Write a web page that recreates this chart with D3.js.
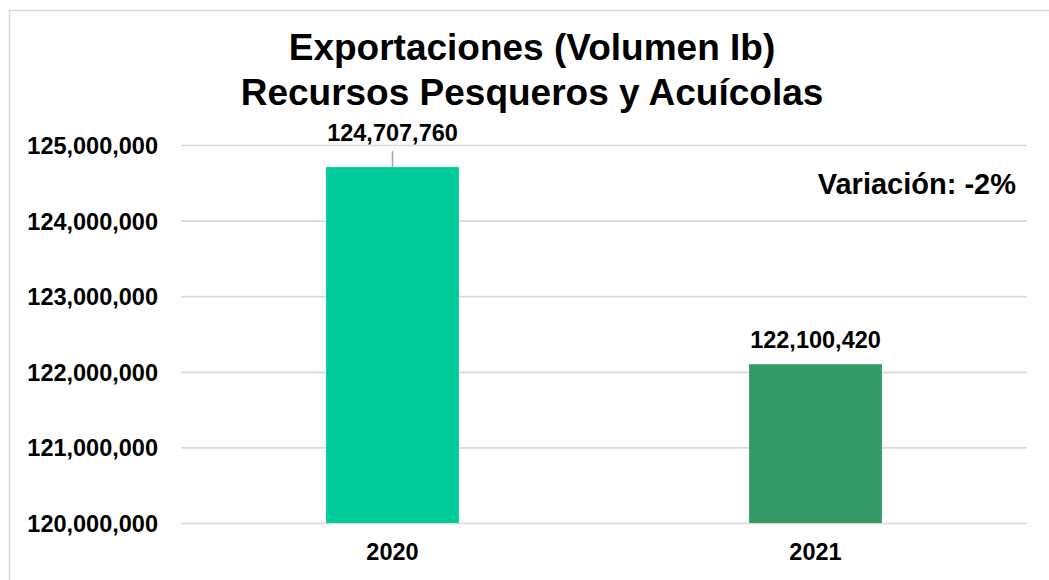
<!DOCTYPE html>
<html>
<head>
<meta charset="utf-8">
<script src="https://cdn.jsdelivr.net/npm/d3@7"></script>
<style>
  html, body { margin: 0; padding: 0; background: #fff; }
  svg { display: block; font-family: "Liberation Sans", Arial, sans-serif; font-weight: bold; }
</style>
</head>
<body>
<svg id="chart" width="1049" height="580"></svg>
<script>
const categories = ["2020", "2021"];
const values = [124707760, 122100420];
const barColors = ["#00CC99", "#339966"];
const yTicks = [120000000, 121000000, 122000000, 123000000, 124000000, 125000000];
const titleLines = ["Exportaciones (Volumen Ib)", "Recursos Pesqueros y Acuícolas"];
const annotation = "Variación: -2%";

const svg = d3.select("#chart");
const plot = { left: 181, right: 1027, top: 145, bottom: 523 };

// outer chart border (extends beyond viewport on right/bottom)
svg.append("rect")
  .attr("x", 9.5).attr("y", 10.5)
  .attr("width", 1100).attr("height", 700)
  .attr("fill", "#fff")
  .attr("stroke", "#d9d9d9").attr("stroke-width", 1.5);

const x = d3.scaleBand().domain(categories).range([plot.left, plot.right]).padding(0);
const y = d3.scaleLinear().domain([120000000, 125000000]).range([plot.bottom, plot.top]);
const fmt = d3.format(",");

// y axis with gridlines
const yAxis = d3.axisLeft(y)
  .tickValues(yTicks)
  .tickSize(-(plot.right - plot.left))
  .tickPadding(23)
  .tickFormat(fmt);

const gy = svg.append("g")
  .attr("transform", `translate(${plot.left},0)`)
  .call(yAxis);
gy.select(".domain").remove();
gy.selectAll(".tick line").attr("stroke", "#d9d9d9").attr("stroke-width", 1.7);
gy.selectAll(".tick text")
  .attr("fill", "#000")
  .style("font-size", "23.5px")
  .style("font-weight", "bold")
  .style("font-family", "'Liberation Sans', Arial, sans-serif")
  .attr("dy", "0.36em");

// bars
const barFrac = 0.314;
const bw = x.bandwidth() * barFrac;
svg.append("g").selectAll("rect")
  .data(categories)
  .join("rect")
  .attr("x", (d) => x(d) + (x.bandwidth() - bw) / 2)
  .attr("y", (d, i) => y(values[i]))
  .attr("width", bw)
  .attr("height", (d, i) => y(120000000) - y(values[i]))
  .attr("fill", (d, i) => barColors[i]);

// x axis labels
const xAxis = d3.axisBottom(x).tickSize(0).tickPadding(0);
const gx = svg.append("g")
  .attr("transform", `translate(0,${plot.bottom})`)
  .call(xAxis);
gx.select(".domain").remove();
gx.selectAll(".tick text")
  .attr("fill", "#000")
  .attr("y", 37)
  .attr("dy", 0)
  .style("font-size", "23.5px")
  .style("font-weight", "bold")
  .style("font-family", "'Liberation Sans', Arial, sans-serif");

// data labels (first one moved up with a leader line)
const labelGap = 16;
const movedExtra = [10, 0];
const cx = (d) => x(d) + x.bandwidth() / 2;
svg.append("g").selectAll("line")
  .data(categories.filter((d, i) => movedExtra[i] > 0))
  .join("line")
  .attr("x1", cx).attr("x2", cx)
  .attr("y1", (d) => y(values[categories.indexOf(d)]) - 16)
  .attr("y2", (d) => y(values[categories.indexOf(d)]))
  .attr("stroke", "#a6a6a6").attr("stroke-width", 1.5);

svg.append("g").selectAll("text")
  .data(categories)
  .join("text")
  .attr("x", cx)
  .attr("y", (d, i) => y(values[i]) - labelGap - movedExtra[i])
  .attr("text-anchor", "middle")
  .attr("font-size", "23.5px")
  .text((d, i) => fmt(values[i]));

// title
svg.append("g").selectAll("text")
  .data(titleLines)
  .join("text")
  .attr("x", 532)
  .attr("y", (d, i) => 60 + i * 44.5)
  .attr("text-anchor", "middle")
  .attr("font-size", "37px")
  .text((d) => d);

// annotation
svg.append("text")
  .attr("x", 1016).attr("y", 194)
  .attr("text-anchor", "end")
  .attr("font-size", "29px")
  .text(annotation);
</script>
</body>
</html>
